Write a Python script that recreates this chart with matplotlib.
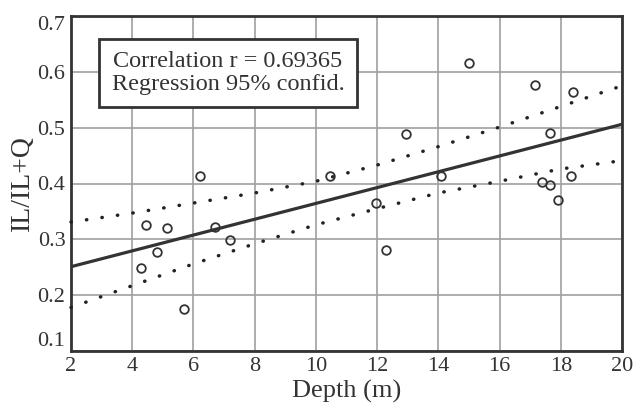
import matplotlib
matplotlib.use("Agg")
import matplotlib.pyplot as plt
import numpy as np

# Data points (Depth in m, IL/IL+Q)
depth = [4.3, 4.45, 4.8, 5.15, 5.7, 6.2, 6.7, 7.2, 10.45, 11.95, 12.3, 12.95,
         14.1, 15.0, 17.15, 17.4, 17.65, 17.65, 17.9, 18.35, 18.4]
ratio = [0.248, 0.325, 0.277, 0.321, 0.176, 0.414, 0.322, 0.299, 0.414, 0.365,
         0.281, 0.489, 0.414, 0.616, 0.576, 0.402, 0.397, 0.490, 0.370, 0.414, 0.564]

# Regression line endpoints
reg_x = [2, 20]
reg_y = [0.251, 0.506]

# 95% confidence bands
band_x = [2, 4, 6, 8, 10, 12, 14, 16, 18, 20]
band_upper = [0.331, 0.347, 0.365, 0.383, 0.404, 0.433, 0.466, 0.501, 0.538, 0.575]
band_lower = [0.178, 0.217, 0.256, 0.292, 0.326, 0.355, 0.383, 0.404, 0.426, 0.441]

xticks = [2, 4, 6, 8, 10, 12, 14, 16, 18, 20]
yticks = [0.1, 0.2, 0.3, 0.4, 0.5, 0.6, 0.7]

plt.rcParams['font.family'] = ['Liberation Serif', 'DejaVu Serif']
dark = '#333333'

fig = plt.figure(figsize=(6.34, 4.05), dpi=100)
ax = fig.add_axes([71/634, 1-351/405, (622-71)/634, (351-16)/405])

ax.set_xlim(2, 20)
ax.set_ylim(0.1, 0.7)
ax.set_xticks(xticks)
ax.set_yticks(yticks)
ax.set_xticklabels([str(t) for t in xticks])
ax.set_yticklabels([f"{t:.1f}" for t in yticks])
ax.tick_params(length=0, labelsize=16, colors=dark, pad=4)
ylabs = ax.get_yticklabels()
ylabs[0].set_va('bottom')
ylabs[-1].set_va('top')

ax.grid(True, color='#a0a0a0', linewidth=1.2)
ax.set_axisbelow(True)
for s in ax.spines.values():
    s.set_color(dark)
    s.set_linewidth(2.0)

dots = (0, (0.1, 4.4))
ax.plot(band_x, band_upper, linestyle=dots, color='#222222', linewidth=2.5,
        dash_capstyle='round', zorder=3, clip_on=False)
ax.plot(band_x, band_lower, linestyle=dots, color='#222222', linewidth=2.5,
        dash_capstyle='round', zorder=3, clip_on=False)
ax.plot(reg_x, reg_y, color=dark, linewidth=2.3, zorder=4)
ax.plot(depth, ratio, linestyle='none', marker='o', markersize=6.2,
        markerfacecolor='none', markeredgecolor=dark, markeredgewidth=1.3, zorder=5)

ax.set_xlabel("Depth (m)", fontsize=19, color=dark, labelpad=3)
ax.set_ylabel("IL/IL+Q", fontsize=20, color=dark, labelpad=2)

ax.text(228/634, 1-73/405, "Correlation r = 0.69365\nRegression 95% confid.",
        transform=fig.transFigure, ha='center', va='center', fontsize=17.5,
        color=dark, linespacing=1.1, zorder=6,
        bbox=dict(boxstyle='square,pad=0.5', facecolor='white',
                  edgecolor=dark, linewidth=2.0))

fig.savefig("out.png", dpi=100)
